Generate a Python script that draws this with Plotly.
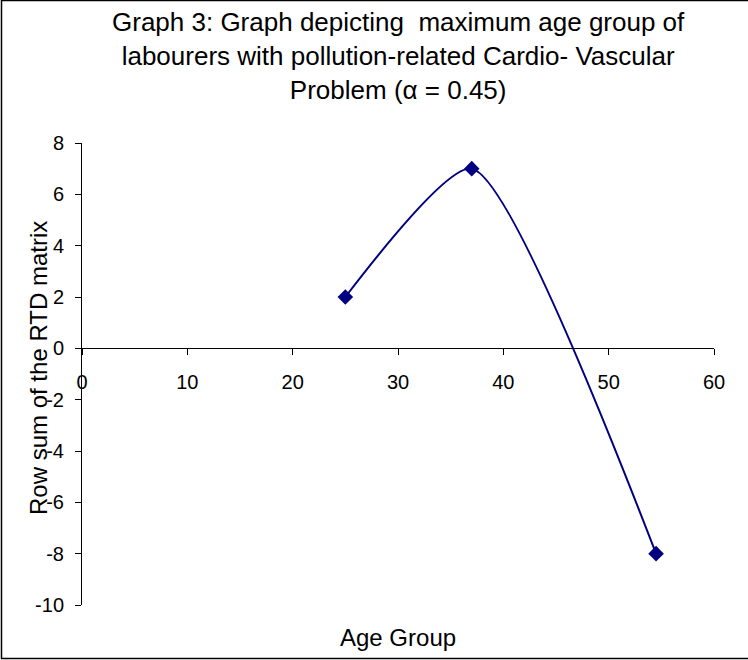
import plotly.graph_objects as go

age_group = [25, 37, 54.5]
row_sum = [2, 7, -8]
x_ticks = [0, 10, 20, 30, 40, 50, 60]
y_ticks = [-10, -8, -6, -4, -2, 0, 2, 4, 6, 8]
y_tick_labels = ["-10", "-8", "-6", "-4", "-2", "0", "2", "4", "6", "8"]

title_lines = [
    "Graph 3: Graph depicting  maximum age group of",
    "labourers with pollution-related Cardio- Vascular",
    "Problem (\u03b1 = 0.45)",
]

W, H = 748, 660
L, R, T, B = 82, 34, 143, 55
pw, ph = W - L - R, H - T - B

def px_x(px):
    return (px - L) / pw

def px_y(py):
    return (H - B - py) / ph

FONT = "Liberation Sans, Arial, sans-serif"
NAVY = "#000080"

fig = go.Figure()
fig.add_trace(go.Scatter(
    x=age_group, y=row_sum, mode="lines+markers",
    line=dict(color=NAVY, width=2, shape="spline", smoothing=0.6),
    marker=dict(symbol="diamond", size=12, color=NAVY),
    showlegend=False, cliponaxis=False,
))

ymin, ymax = -10, 8
fig.update_layout(
    width=W, height=H,
    margin=dict(l=L, r=R, t=T, b=B, pad=0),
    paper_bgcolor="white", plot_bgcolor="white",
    font=dict(family=FONT, color="black"),
    xaxis=dict(
        range=[0, 60], tickvals=x_ticks, ticks="outside", ticklen=6,
        tickwidth=1, tickcolor="black", showline=True, linecolor="black",
        linewidth=1, showgrid=False, zeroline=False, anchor="free",
        position=(0 - ymin) / (ymax - ymin), tickfont=dict(size=20),
        ticklabelstandoff=10,
    ),
    yaxis=dict(
        range=[ymin, ymax], tickvals=y_ticks, ticktext=y_tick_labels,
        ticks="outside", ticklen=6,
        tickwidth=1, tickcolor="black", showline=True, linecolor="black",
        linewidth=1, showgrid=False, zeroline=False, domain=[0, 1],
        tickfont=dict(size=20), ticklabelstandoff=7,
    ),
)

fig.add_annotation(
    text="<br>".join(title_lines), xref="paper", yref="paper",
    x=0.5, y=px_y(56), xanchor="center", yanchor="middle",
    showarrow=False, font=dict(size=26, family=FONT), align="center",
)
fig.add_annotation(
    text="Age Group", xref="paper", yref="paper",
    x=px_x(398), y=px_y(637), xanchor="center", yanchor="middle",
    showarrow=False, font=dict(size=24, family=FONT),
)
fig.add_annotation(
    text="Row sum of the RTD matrix", xref="paper", yref="paper",
    x=px_x(38), y=px_y(368), xanchor="center", yanchor="middle",
    textangle=-90, showarrow=False, font=dict(size=24, family=FONT),
)
fig.add_shape(
    type="rect", xref="paper", yref="paper",
    x0=px_x(1.5), x1=px_x(760), y0=px_y(658.5), y1=px_y(0.5),
    line=dict(color="black", width=1.5), fillcolor="rgba(0,0,0,0)",
    layer="below",
)

fig.write_html(
    "out.html",
    config={"displayModeBar": False},
    post_script="document.body.style.margin='0';document.body.style.overflow='hidden';",
)
